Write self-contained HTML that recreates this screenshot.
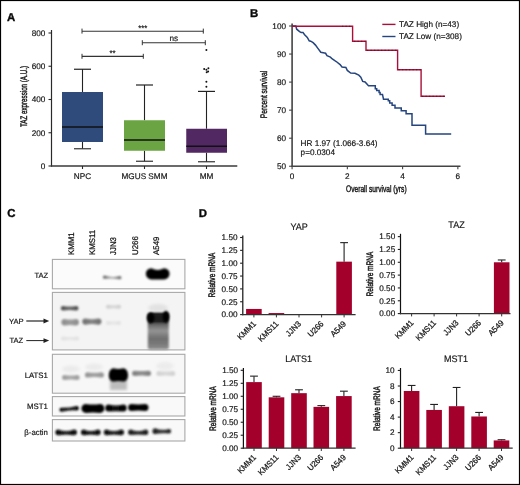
<!DOCTYPE html>
<html><head><meta charset="utf-8"><style>
html,body{margin:0;padding:0;background:#fff;}
body{width:520px;height:485px;overflow:hidden;}
svg{display:block;font-family:"Liberation Sans", sans-serif;will-change:transform;}
</style></head><body>
<svg width="520" height="485" viewBox="0 0 520 485" text-rendering="geometricPrecision">
<rect x="0" y="0" width="520" height="485" fill="#fff"/>
<text transform="translate(7,20.9) scale(1,1)" font-size="11.4" text-anchor="start" font-weight="bold" fill="#0a0a0a" stroke="#0a0a0a" stroke-width="0.35" >A</text>
<line x1="51.5" y1="30" x2="51.5" y2="166.6" stroke="#2a2a2a" stroke-width="1.2"/>
<line x1="48.5" y1="166.0" x2="51.5" y2="166.0" stroke="#2a2a2a" stroke-width="1.1"/>
<text transform="translate(45.3,168.8) scale(1.0,1)" font-size="8.2" text-anchor="end" font-weight="normal" fill="#161616" stroke="#161616" stroke-width="0.18" >0</text>
<line x1="48.5" y1="132.75" x2="51.5" y2="132.75" stroke="#2a2a2a" stroke-width="1.1"/>
<text transform="translate(45.3,135.55) scale(1.0,1)" font-size="8.2" text-anchor="end" font-weight="normal" fill="#161616" stroke="#161616" stroke-width="0.18" >200</text>
<line x1="48.5" y1="99.5" x2="51.5" y2="99.5" stroke="#2a2a2a" stroke-width="1.1"/>
<text transform="translate(45.3,102.3) scale(1.0,1)" font-size="8.2" text-anchor="end" font-weight="normal" fill="#161616" stroke="#161616" stroke-width="0.18" >400</text>
<line x1="48.5" y1="66.25" x2="51.5" y2="66.25" stroke="#2a2a2a" stroke-width="1.1"/>
<text transform="translate(45.3,69.05) scale(1.0,1)" font-size="8.2" text-anchor="end" font-weight="normal" fill="#161616" stroke="#161616" stroke-width="0.18" >600</text>
<line x1="48.5" y1="33.0" x2="51.5" y2="33.0" stroke="#2a2a2a" stroke-width="1.1"/>
<text transform="translate(45.3,35.8) scale(1.0,1)" font-size="8.2" text-anchor="end" font-weight="normal" fill="#161616" stroke="#161616" stroke-width="0.18" >800</text>
<line x1="50.9" y1="166.0" x2="237.3" y2="166.0" stroke="#3a3a3a" stroke-width="1.3"/>
<line x1="82.5" y1="166" x2="82.5" y2="169" stroke="#2a2a2a" stroke-width="1.1"/>
<text transform="translate(82.5,179) scale(1.0,1)" font-size="8.2" text-anchor="middle" font-weight="normal" fill="#161616" stroke="#161616" stroke-width="0.18" >NPC</text>
<line x1="144.5" y1="166" x2="144.5" y2="169" stroke="#2a2a2a" stroke-width="1.1"/>
<text transform="translate(144.5,179) scale(1.0,1)" font-size="8.2" text-anchor="middle" font-weight="normal" fill="#161616" stroke="#161616" stroke-width="0.18" >MGUS SMM</text>
<line x1="206.5" y1="166" x2="206.5" y2="169" stroke="#2a2a2a" stroke-width="1.1"/>
<text transform="translate(206.5,179) scale(1.0,1)" font-size="8.2" text-anchor="middle" font-weight="normal" fill="#161616" stroke="#161616" stroke-width="0.18" >MM</text>
<text transform="translate(26.5,96.5) rotate(-90) scale(0.655,1)" font-size="9.5" text-anchor="middle" fill="#161616" stroke="#161616" stroke-width="0.42">TAZ expression (A.U.)</text>
<line x1="82.5" y1="69.25" x2="82.5" y2="92" stroke="#222" stroke-width="1.1"/>
<line x1="82.5" y1="142" x2="82.5" y2="148.75" stroke="#222" stroke-width="1.1"/>
<line x1="74.0" y1="69.25" x2="91.0" y2="69.25" stroke="#222" stroke-width="1.2"/>
<line x1="74.0" y1="148.75" x2="91.0" y2="148.75" stroke="#333" stroke-width="1.2"/>
<rect x="62" y="92" width="41" height="50" fill="#2e4b7b" stroke="none" stroke-width="0" />
<line x1="62" y1="127" x2="103" y2="127" stroke="#111" stroke-width="1.4"/>
<line x1="144.5" y1="85" x2="144.5" y2="120.25" stroke="#222" stroke-width="1.1"/>
<line x1="144.5" y1="150.75" x2="144.5" y2="161.25" stroke="#222" stroke-width="1.1"/>
<line x1="136.0" y1="85" x2="153.0" y2="85" stroke="#222" stroke-width="1.2"/>
<line x1="136.0" y1="161.25" x2="153.0" y2="161.25" stroke="#333" stroke-width="1.2"/>
<rect x="124" y="120.25" width="41" height="30.5" fill="#6ba543" stroke="none" stroke-width="0" />
<line x1="124" y1="140" x2="165" y2="140" stroke="#111" stroke-width="1.4"/>
<line x1="206.5" y1="91.4" x2="206.5" y2="128.75" stroke="#222" stroke-width="1.1"/>
<line x1="206.5" y1="152.75" x2="206.5" y2="161.75" stroke="#222" stroke-width="1.1"/>
<line x1="198.0" y1="91.4" x2="215.0" y2="91.4" stroke="#222" stroke-width="1.2"/>
<line x1="198.0" y1="161.75" x2="215.0" y2="161.75" stroke="#333" stroke-width="1.2"/>
<rect x="186.25" y="128.75" width="40.75" height="24.0" fill="#512862" stroke="none" stroke-width="0" />
<line x1="186.25" y1="146.25" x2="227" y2="146.25" stroke="#111" stroke-width="1.4"/>
<circle cx="206.4" cy="50" r="1.0" fill="#111"/>
<circle cx="204.2" cy="69" r="1.0" fill="#111"/>
<circle cx="206.4" cy="69.7" r="1.0" fill="#111"/>
<circle cx="208.4" cy="68.3" r="1.0" fill="#111"/>
<circle cx="206.7" cy="72.3" r="1.0" fill="#111"/>
<circle cx="208.1" cy="71.5" r="1.0" fill="#111"/>
<circle cx="206.4" cy="81.7" r="1.0" fill="#111"/>
<circle cx="206.4" cy="86.7" r="1.0" fill="#111"/>
<line x1="82" y1="31.2" x2="203.3" y2="31.2" stroke="#333" stroke-width="1.1"/>
<line x1="82" y1="28.599999999999998" x2="82" y2="33.6" stroke="#333" stroke-width="1.0"/>
<line x1="203.3" y1="28.599999999999998" x2="203.3" y2="33.6" stroke="#333" stroke-width="1.0"/>
<text transform="translate(142.8,30.7) scale(0.95,1)" font-size="8.2" text-anchor="middle" font-weight="normal" fill="#161616" stroke="#161616" stroke-width="0.18" >***</text>
<line x1="142.3" y1="42.8" x2="205.3" y2="42.8" stroke="#333" stroke-width="1.1"/>
<line x1="142.3" y1="40.199999999999996" x2="142.3" y2="45.199999999999996" stroke="#333" stroke-width="1.0"/>
<line x1="205.3" y1="40.199999999999996" x2="205.3" y2="45.199999999999996" stroke="#333" stroke-width="1.0"/>
<text transform="translate(173.8,40.5) scale(1.0,1)" font-size="8.2" text-anchor="middle" font-weight="normal" fill="#161616" stroke="#161616" stroke-width="0.18" >ns</text>
<line x1="82" y1="56.4" x2="143.3" y2="56.4" stroke="#333" stroke-width="1.1"/>
<line x1="82" y1="53.8" x2="82" y2="58.8" stroke="#333" stroke-width="1.0"/>
<line x1="143.3" y1="53.8" x2="143.3" y2="58.8" stroke="#333" stroke-width="1.0"/>
<text transform="translate(112.6,56.2) scale(0.95,1)" font-size="8.2" text-anchor="middle" font-weight="normal" fill="#161616" stroke="#161616" stroke-width="0.18" >**</text>
<text transform="translate(250,16.9) scale(1,1)" font-size="11.4" text-anchor="start" font-weight="bold" fill="#0a0a0a" stroke="#0a0a0a" stroke-width="0.35" >B</text>
<line x1="292.1" y1="23.4" x2="292.1" y2="167" stroke="#444" stroke-width="1.6"/>
<line x1="289.1" y1="166.25" x2="292.1" y2="166.25" stroke="#444" stroke-width="1.1"/>
<text transform="translate(286,169.05) scale(1.0,1)" font-size="8.2" text-anchor="end" font-weight="normal" fill="#161616" stroke="#161616" stroke-width="0.18" >50</text>
<line x1="289.1" y1="138.2" x2="292.1" y2="138.2" stroke="#444" stroke-width="1.1"/>
<text transform="translate(286,141.0) scale(1.0,1)" font-size="8.2" text-anchor="end" font-weight="normal" fill="#161616" stroke="#161616" stroke-width="0.18" >60</text>
<line x1="289.1" y1="110.15" x2="292.1" y2="110.15" stroke="#444" stroke-width="1.1"/>
<text transform="translate(286,112.95) scale(1.0,1)" font-size="8.2" text-anchor="end" font-weight="normal" fill="#161616" stroke="#161616" stroke-width="0.18" >70</text>
<line x1="289.1" y1="82.1" x2="292.1" y2="82.1" stroke="#444" stroke-width="1.1"/>
<text transform="translate(286,84.89999999999999) scale(1.0,1)" font-size="8.2" text-anchor="end" font-weight="normal" fill="#161616" stroke="#161616" stroke-width="0.18" >80</text>
<line x1="289.1" y1="54.05" x2="292.1" y2="54.05" stroke="#444" stroke-width="1.1"/>
<text transform="translate(286,56.849999999999994) scale(1.0,1)" font-size="8.2" text-anchor="end" font-weight="normal" fill="#161616" stroke="#161616" stroke-width="0.18" >90</text>
<line x1="289.1" y1="26.0" x2="292.1" y2="26.0" stroke="#444" stroke-width="1.1"/>
<text transform="translate(286,28.8) scale(1.0,1)" font-size="8.2" text-anchor="end" font-weight="normal" fill="#161616" stroke="#161616" stroke-width="0.18" >100</text>
<line x1="291.5" y1="166.25" x2="460.5" y2="166.25" stroke="#444" stroke-width="1.6"/>
<line x1="292.1" y1="166.25" x2="292.1" y2="169.3" stroke="#444" stroke-width="1.1"/>
<text transform="translate(292.1,178.7) scale(1.0,1)" font-size="8.2" text-anchor="middle" font-weight="normal" fill="#161616" stroke="#161616" stroke-width="0.18" >0</text>
<line x1="347.35" y1="166.25" x2="347.35" y2="169.3" stroke="#444" stroke-width="1.1"/>
<text transform="translate(347.35,178.7) scale(1.0,1)" font-size="8.2" text-anchor="middle" font-weight="normal" fill="#161616" stroke="#161616" stroke-width="0.18" >2</text>
<line x1="402.6" y1="166.25" x2="402.6" y2="169.3" stroke="#444" stroke-width="1.1"/>
<text transform="translate(402.6,178.7) scale(1.0,1)" font-size="8.2" text-anchor="middle" font-weight="normal" fill="#161616" stroke="#161616" stroke-width="0.18" >4</text>
<line x1="457.85" y1="166.25" x2="457.85" y2="169.3" stroke="#444" stroke-width="1.1"/>
<text transform="translate(457.85,178.7) scale(1.0,1)" font-size="8.2" text-anchor="middle" font-weight="normal" fill="#161616" stroke="#161616" stroke-width="0.18" >6</text>
<text transform="translate(376.3,192.3) scale(0.70,1)" font-size="9.5" text-anchor="middle" fill="#161616" stroke="#161616" stroke-width="0.42">Overall survival (yrs)</text>
<text transform="translate(266.5,94.5) rotate(-90) scale(0.7,1)" font-size="9.5" text-anchor="middle" fill="#161616" stroke="#161616" stroke-width="0.42">Percent survival</text>
<text transform="translate(300.6,146.2) scale(1.0,1)" font-size="8.2" text-anchor="start" font-weight="normal" fill="#161616" stroke="#161616" stroke-width="0.18" >HR 1.97 (1.066-3.64)</text>
<text transform="translate(300.6,155.0) scale(1.0,1)" font-size="8.2" text-anchor="start" font-weight="normal" fill="#161616" stroke="#161616" stroke-width="0.18" >p=0.0304</text>
<line x1="382.3" y1="24.4" x2="395.5" y2="24.4" stroke="#a90f3a" stroke-width="1.4"/>
<text transform="translate(399.0,27.2) scale(1.0,1)" font-size="8.2" text-anchor="start" font-weight="normal" fill="#161616" stroke="#161616" stroke-width="0.18" >TAZ High (n=43)</text>
<line x1="382.3" y1="36.5" x2="395.5" y2="36.5" stroke="#25457f" stroke-width="1.4"/>
<text transform="translate(399.0,39.0) scale(1.0,1)" font-size="8.2" text-anchor="start" font-weight="normal" fill="#161616" stroke="#161616" stroke-width="0.18" >TAZ Low (n=308)</text>
<polyline fill="none" stroke="#25457f" stroke-width="1.5" stroke-linejoin="miter" points="292,26.1 295.8,26.1 296.7,29.2 299.6,31.6 301.1,32.4 303,32.4 304.4,34.5 307.3,37.4 309.2,40.75 310.7,41.2 313.1,42.7 315.5,45.1 317.9,48.4 320.8,52.3 323.2,52.8 325.6,53.25 327,55.65 330.4,57.1 332.3,59 335.2,60.9 336.25,61.5 340.1,64.6 342,67 345.9,67.5 347.3,70.4 350.7,73.1 355,73.3 358.8,75.2 360.8,77.1 362.7,81.4 365.1,81.9 368.5,85.8 375.3,85.8 375.3,88.7 376.7,88.7 376.7,90.4 379.1,90.4 379.1,92.5 380.1,92.5 380.1,94.4 382.5,94.4 383.5,99.2 388.3,99.2 388.3,100.7 389.7,100.7 389.7,102.9 392.1,102.9 392.1,105.2 395,105.2 395,108.1 401.25,108.1 401.25,110.8 406.1,110.8 406.1,113.8 412,113.8 412,125.2 425.6,125.2 425.6,133.9 451.2,133.9"/>
<polyline fill="none" stroke="#a90f3a" stroke-width="1.4" stroke-linejoin="miter" points="292,26.2 352.6,26.2 352.6,41.3 366.0,41.3 366.0,50.3 397.6,50.3 397.6,69.75 421.1,69.75 421.1,96.2 445,96.2"/>
<line x1="342" y1="26.2" x2="352.2" y2="26.2" stroke="#2a0a14" stroke-width="1.1" stroke-dasharray="1.3 2.2" opacity="0.55"/>
<line x1="354" y1="41.3" x2="365.6" y2="41.3" stroke="#2a0a14" stroke-width="1.1" stroke-dasharray="1.3 2.2" opacity="0.55"/>
<line x1="367" y1="50.3" x2="397.2" y2="50.3" stroke="#2a0a14" stroke-width="1.1" stroke-dasharray="1.3 2.2" opacity="0.55"/>
<line x1="398.5" y1="69.75" x2="420.7" y2="69.75" stroke="#2a0a14" stroke-width="1.1" stroke-dasharray="1.3 2.2" opacity="0.55"/>
<line x1="422" y1="96.2" x2="445" y2="96.2" stroke="#2a0a14" stroke-width="1.1" stroke-dasharray="1.3 2.2" opacity="0.55"/>
<text transform="translate(7.3,217.3) scale(1,1)" font-size="11.4" text-anchor="start" font-weight="bold" fill="#0a0a0a" stroke="#0a0a0a" stroke-width="0.35" >C</text>
<text transform="translate(74.1,254.9) rotate(-90) scale(0.955,1)" font-size="8.2" fill="#161616" stroke="#161616" stroke-width="0.26">KMM1</text>
<text transform="translate(95.3,254.9) rotate(-90) scale(0.955,1)" font-size="8.2" fill="#161616" stroke="#161616" stroke-width="0.26">KMS11</text>
<text transform="translate(116.2,254.9) rotate(-90) scale(0.955,1)" font-size="8.2" fill="#161616" stroke="#161616" stroke-width="0.26">JJN3</text>
<text transform="translate(137.60000000000002,254.9) rotate(-90) scale(0.955,1)" font-size="8.2" fill="#161616" stroke="#161616" stroke-width="0.26">U266</text>
<text transform="translate(158.70000000000002,254.9) rotate(-90) scale(0.955,1)" font-size="8.2" fill="#161616" stroke="#161616" stroke-width="0.26">A549</text>
<rect x="52.4" y="259.4" width="132.5" height="29.400000000000034" fill="#fbfbfb" stroke="#a8a8a8" stroke-width="1.1" />
<rect x="52.4" y="292.4" width="132.5" height="57.5" fill="#f4f4f4" stroke="#a8a8a8" stroke-width="1.1" />
<rect x="52.4" y="354.3" width="132.5" height="38.89999999999998" fill="#f7f7f7" stroke="#a8a8a8" stroke-width="1.1" />
<rect x="52.4" y="396.6" width="132.5" height="19.399999999999977" fill="#f9f9f9" stroke="#a8a8a8" stroke-width="1.1" />
<rect x="52.4" y="419.6" width="132.5" height="21.399999999999977" fill="#f9f9f9" stroke="#a8a8a8" stroke-width="1.1" />
<text transform="translate(48.2,277.7) scale(1.0,1)" font-size="7.6" text-anchor="end" font-weight="normal" fill="#161616" stroke="#161616" stroke-width="0.18" >TAZ</text>
<text transform="translate(23.6,323.6) scale(1.0,1)" font-size="7.6" text-anchor="end" font-weight="normal" fill="#161616" stroke="#161616" stroke-width="0.18" >YAP</text>
<text transform="translate(23.2,342.9) scale(1.0,1)" font-size="7.6" text-anchor="end" font-weight="normal" fill="#161616" stroke="#161616" stroke-width="0.18" >TAZ</text>
<text transform="translate(47.9,378.1) scale(1.0,1)" font-size="7.8" text-anchor="end" font-weight="normal" fill="#161616" stroke="#161616" stroke-width="0.18" >LATS1</text>
<text transform="translate(47.9,409.4) scale(1.0,1)" font-size="7.8" text-anchor="end" font-weight="normal" fill="#161616" stroke="#161616" stroke-width="0.18" >MST1</text>
<text transform="translate(47.9,434.8) scale(1.0,1)" font-size="7.8" text-anchor="end" font-weight="normal" fill="#161616" stroke="#161616" stroke-width="0.18" >&#946;-actin</text>
<line x1="26.3" y1="321.0" x2="44.5" y2="321.0" stroke="#444" stroke-width="1.4"/>
<polygon points="43.5,318.6 49.2,321 43.5,323.4" fill="#222"/>
<line x1="26.3" y1="340.6" x2="44.5" y2="340.6" stroke="#222" stroke-width="1.0"/>
<polygon points="43.5,338.3 49.2,340.6 43.5,342.9" fill="#222"/>
<defs><filter id="b05" x="-50%" y="-100%" width="200%" height="300%"><feGaussianBlur stdDeviation="0.6"/></filter><filter id="b1" x="-50%" y="-100%" width="200%" height="300%"><feGaussianBlur stdDeviation="0.9"/></filter><filter id="b2" x="-50%" y="-100%" width="200%" height="300%"><feGaussianBlur stdDeviation="1.6"/></filter><filter id="b3" x="-50%" y="-100%" width="200%" height="300%"><feGaussianBlur stdDeviation="2.6"/></filter></defs>
<defs><linearGradient id="g1" x1="0" x2="1" y1="0" y2="0"><stop offset="0" stop-color="#606060"/><stop offset="0.5" stop-color="#a8a8a8"/><stop offset="1" stop-color="#606060"/></linearGradient></defs>
<path d="M104.50,275.60 Q112.15,278.25 119.80,276.10 A1.60,1.60 0 0 1 119.80,279.30 Q112.15,278.25 104.50,278.80 A1.60,1.60 0 0 1 104.50,275.60 Z" fill="url(#g1)" opacity="1" filter="url(#b1)"/>
<defs><linearGradient id="g2" x1="0" x2="1" y1="0" y2="0"><stop offset="0" stop-color="#000"/><stop offset="0.5" stop-color="#000"/><stop offset="1" stop-color="#000"/></linearGradient></defs>
<path d="M151.40,268.20 Q157.70,271.80 164.00,268.20 A5.60,5.60 0 0 1 164.00,279.40 Q157.70,279.40 151.40,279.40 A5.60,5.60 0 0 1 151.40,268.20 Z" fill="url(#g2)" opacity="1" filter="url(#b1)"/>
<defs><linearGradient id="g3" x1="0" x2="1" y1="0" y2="0"><stop offset="0" stop-color="#4a4a4a"/><stop offset="0.5" stop-color="#6a6a6a"/><stop offset="1" stop-color="#4a4a4a"/></linearGradient></defs>
<path d="M63.10,305.90 Q69.65,306.90 76.20,305.90 A2.30,2.30 0 0 1 76.20,310.50 Q69.65,309.50 63.10,310.50 A2.30,2.30 0 0 1 63.10,305.90 Z" fill="url(#g3)" opacity="1" filter="url(#b1)"/>
<defs><linearGradient id="g4" x1="0" x2="1" y1="0" y2="0"><stop offset="0" stop-color="#8a8a8a"/><stop offset="0.5" stop-color="#9c9c9c"/><stop offset="1" stop-color="#8a8a8a"/></linearGradient></defs>
<path d="M64.70,319.00 Q70.15,320.20 75.60,319.00 A3.30,3.30 0 0 1 75.60,325.60 Q70.15,324.40 64.70,325.60 A3.30,3.30 0 0 1 64.70,319.00 Z" fill="url(#g4)" opacity="1" filter="url(#b1)"/>
<defs><linearGradient id="g5" x1="0" x2="1" y1="0" y2="0"><stop offset="0" stop-color="#6e6e6e"/><stop offset="0.5" stop-color="#858585"/><stop offset="1" stop-color="#6e6e6e"/></linearGradient></defs>
<path d="M85.40,318.50 Q91.85,319.90 98.30,318.50 A3.10,3.10 0 0 1 98.30,324.70 Q91.85,323.30 85.40,324.70 A3.10,3.10 0 0 1 85.40,318.50 Z" fill="url(#g5)" opacity="1" filter="url(#b1)"/>
<defs><linearGradient id="g6" x1="0" x2="1" y1="0" y2="0"><stop offset="0" stop-color="#cdcdcd"/><stop offset="0.5" stop-color="#d8d8d8"/><stop offset="1" stop-color="#cdcdcd"/></linearGradient></defs>
<path d="M108.00,304.80 Q113.50,305.80 119.00,304.80 A2.00,2.00 0 0 1 119.00,308.80 Q113.50,307.80 108.00,308.80 A2.00,2.00 0 0 1 108.00,304.80 Z" fill="url(#g6)" opacity="1" filter="url(#b1)"/>
<defs><linearGradient id="g7" x1="0" x2="1" y1="0" y2="0"><stop offset="0" stop-color="#e0e0e0"/><stop offset="0.5" stop-color="#e6e6e6"/><stop offset="1" stop-color="#e0e0e0"/></linearGradient></defs>
<path d="M108.00,321.00 Q113.50,322.00 119.00,321.00 A2.00,2.00 0 0 1 119.00,325.00 Q113.50,324.00 108.00,325.00 A2.00,2.00 0 0 1 108.00,321.00 Z" fill="url(#g7)" opacity="1" filter="url(#b1)"/>
<defs><linearGradient id="g8" x1="0" x2="1" y1="0" y2="0"><stop offset="0" stop-color="#e0e0e0"/><stop offset="0.5" stop-color="#e6e6e6"/><stop offset="1" stop-color="#e0e0e0"/></linearGradient></defs>
<path d="M63.00,336.50 Q70.00,337.50 77.00,336.50 A2.00,2.00 0 0 1 77.00,340.50 Q70.00,339.50 63.00,340.50 A2.00,2.00 0 0 1 63.00,336.50 Z" fill="url(#g8)" opacity="1" filter="url(#b1)"/>
<ellipse cx="158" cy="308" rx="10" ry="4" fill="#e2e2e2" opacity="1" filter="url(#b2)"/>
<defs><linearGradient id="a549y" x1="0" x2="0" y1="0" y2="1"><stop offset="0" stop-color="#1a1a1a"/><stop offset="0.28" stop-color="#5a5a5a"/><stop offset="0.48" stop-color="#959595"/><stop offset="0.7" stop-color="#6e6e6e"/><stop offset="0.85" stop-color="#7a7a7a"/><stop offset="1" stop-color="#909090"/></linearGradient></defs>
<rect x="147.8" y="313" width="21" height="36.6" rx="2" fill="url(#a549y)" filter="url(#b1)"/>
<rect x="150" y="313.5" width="16" height="9" fill="#1e1e1e" filter="url(#b1)"/>
<ellipse cx="150.6" cy="317.8" rx="3.8" ry="5.4" fill="#000" opacity="1" filter="url(#b1)"/>
<ellipse cx="166.0" cy="316.8" rx="3.3" ry="6.0" fill="#000" opacity="1" filter="url(#b1)"/>
<ellipse cx="71" cy="369" rx="9" ry="3.5" fill="#ebebeb" opacity="1" filter="url(#b2)"/>
<ellipse cx="94" cy="367" rx="9" ry="3.5" fill="#ebebeb" opacity="1" filter="url(#b2)"/>
<ellipse cx="165" cy="366" rx="9" ry="4" fill="#ececec" opacity="1" filter="url(#b2)"/>
<defs><linearGradient id="g9" x1="0" x2="1" y1="0" y2="0"><stop offset="0" stop-color="#9a9a9a"/><stop offset="0.5" stop-color="#aaaaaa"/><stop offset="1" stop-color="#9a9a9a"/></linearGradient></defs>
<path d="M64.60,375.10 Q70.85,376.10 77.10,375.10 A2.50,2.50 0 0 1 77.10,380.10 Q70.85,379.10 64.60,380.10 A2.50,2.50 0 0 1 64.60,375.10 Z" fill="url(#g9)" opacity="1" filter="url(#b1)"/>
<defs><linearGradient id="g10" x1="0" x2="1" y1="0" y2="0"><stop offset="0" stop-color="#929292"/><stop offset="0.5" stop-color="#a2a2a2"/><stop offset="1" stop-color="#929292"/></linearGradient></defs>
<path d="M87.60,372.30 Q94.45,373.30 101.30,372.30 A2.60,2.60 0 0 1 101.30,377.50 Q94.45,376.50 87.60,377.50 A2.60,2.60 0 0 1 87.60,372.30 Z" fill="url(#g10)" opacity="1" filter="url(#b1)"/>
<rect x="110" y="378" width="17" height="12" fill="#bdbdbd" filter="url(#b2)"/>
<defs><linearGradient id="g11" x1="0" x2="1" y1="0" y2="0"><stop offset="0" stop-color="#000"/><stop offset="0.5" stop-color="#000"/><stop offset="1" stop-color="#000"/></linearGradient></defs>
<path d="M113.55,368.20 Q118.40,369.60 123.25,368.20 A4.85,6.70 0 0 1 123.25,381.60 Q118.40,380.20 113.55,381.60 A4.85,6.70 0 0 1 113.55,368.20 Z" fill="url(#g11)" opacity="1" filter="url(#b1)"/>
<defs><linearGradient id="g12" x1="0" x2="1" y1="0" y2="0"><stop offset="0" stop-color="#7c7c7c"/><stop offset="0.5" stop-color="#909090"/><stop offset="1" stop-color="#7c7c7c"/></linearGradient></defs>
<path d="M134.70,370.70 Q141.55,371.50 148.40,370.70 A2.60,2.60 0 0 1 148.40,375.90 Q141.55,375.10 134.70,375.90 A2.60,2.60 0 0 1 134.70,370.70 Z" fill="url(#g12)" opacity="1" filter="url(#b1)"/>
<defs><linearGradient id="g13" x1="0" x2="1" y1="0" y2="0"><stop offset="0" stop-color="#d0d0d0"/><stop offset="0.5" stop-color="#d8d8d8"/><stop offset="1" stop-color="#d0d0d0"/></linearGradient></defs>
<path d="M158.90,371.00 Q165.80,372.00 172.70,371.00 A2.50,2.50 0 0 1 172.70,376.00 Q165.80,375.00 158.90,376.00 A2.50,2.50 0 0 1 158.90,371.00 Z" fill="url(#g13)" opacity="1" filter="url(#b1)"/>
<defs><linearGradient id="g14" x1="0" x2="1" y1="0" y2="0"><stop offset="0" stop-color="#000"/><stop offset="0.5" stop-color="#1a1a1a"/><stop offset="1" stop-color="#000"/></linearGradient></defs>
<path d="M61.40,407.80 Q69.15,408.10 76.70,406.00 A2.20,2.20 0 0 1 76.70,410.40 Q69.15,409.90 61.40,411.80 A2.00,2.00 0 0 1 61.40,407.80 Z" fill="url(#g14)" opacity="1" filter="url(#b1)"/>
<defs><linearGradient id="g15" x1="0" x2="1" y1="0" y2="0"><stop offset="0" stop-color="#000"/><stop offset="0.5" stop-color="#000"/><stop offset="1" stop-color="#000"/></linearGradient></defs>
<path d="M85.90,403.90 Q92.95,405.30 100.00,403.90 A4.50,4.50 0 0 1 100.00,412.90 Q92.95,412.30 85.90,412.90 A4.50,4.50 0 0 1 85.90,403.90 Z" fill="url(#g15)" opacity="1" filter="url(#b1)"/>
<defs><linearGradient id="g16" x1="0" x2="1" y1="0" y2="0"><stop offset="0" stop-color="#000"/><stop offset="0.5" stop-color="#0a0a0a"/><stop offset="1" stop-color="#000"/></linearGradient></defs>
<path d="M108.70,404.60 Q115.95,406.60 123.20,404.60 A3.50,3.50 0 0 1 123.20,411.60 Q115.95,410.80 108.70,411.60 A3.50,3.50 0 0 1 108.70,404.60 Z" fill="url(#g16)" opacity="1" filter="url(#b1)"/>
<defs><linearGradient id="g17" x1="0" x2="1" y1="0" y2="0"><stop offset="0" stop-color="#000"/><stop offset="0.5" stop-color="#000"/><stop offset="1" stop-color="#000"/></linearGradient></defs>
<path d="M131.60,404.00 Q138.30,404.80 145.00,404.00 A3.50,3.50 0 0 1 145.00,411.00 Q138.30,410.20 131.60,411.00 A3.50,3.50 0 0 1 131.60,404.00 Z" fill="url(#g17)" opacity="1" filter="url(#b1)"/>
<defs><linearGradient id="g18" x1="0" x2="1" y1="0" y2="0"><stop offset="0" stop-color="#000"/><stop offset="0.5" stop-color="#222"/><stop offset="1" stop-color="#000"/></linearGradient></defs>
<path d="M58.30,429.40 Q66.15,432.60 74.00,429.40 A2.90,2.90 0 0 1 74.00,435.20 Q66.15,434.40 58.30,435.20 A2.90,2.90 0 0 1 58.30,429.40 Z" fill="url(#g18)" opacity="1" filter="url(#b1)"/>
<defs><linearGradient id="g19" x1="0" x2="1" y1="0" y2="0"><stop offset="0" stop-color="#000"/><stop offset="0.5" stop-color="#222"/><stop offset="1" stop-color="#000"/></linearGradient></defs>
<path d="M83.90,429.40 Q90.80,432.60 97.70,429.40 A2.90,2.90 0 0 1 97.70,435.20 Q90.80,434.40 83.90,435.20 A2.90,2.90 0 0 1 83.90,429.40 Z" fill="url(#g19)" opacity="1" filter="url(#b1)"/>
<defs><linearGradient id="g20" x1="0" x2="1" y1="0" y2="0"><stop offset="0" stop-color="#050505"/><stop offset="0.5" stop-color="#262626"/><stop offset="1" stop-color="#050505"/></linearGradient></defs>
<path d="M106.70,429.40 Q113.90,432.60 121.10,429.40 A2.90,2.90 0 0 1 121.10,435.20 Q113.90,434.40 106.70,435.20 A2.90,2.90 0 0 1 106.70,429.40 Z" fill="url(#g20)" opacity="1" filter="url(#b1)"/>
<defs><linearGradient id="g21" x1="0" x2="1" y1="0" y2="0"><stop offset="0" stop-color="#151515"/><stop offset="0.5" stop-color="#333"/><stop offset="1" stop-color="#151515"/></linearGradient></defs>
<path d="M130.90,429.50 Q138.20,432.70 145.50,429.50 A2.80,2.80 0 0 1 145.50,435.10 Q138.20,434.30 130.90,435.10 A2.80,2.80 0 0 1 130.90,429.50 Z" fill="url(#g21)" opacity="1" filter="url(#b1)"/>
<defs><linearGradient id="g22" x1="0" x2="1" y1="0" y2="0"><stop offset="0" stop-color="#1a1a1a"/><stop offset="0.5" stop-color="#3a3a3a"/><stop offset="1" stop-color="#1a1a1a"/></linearGradient></defs>
<path d="M155.40,428.30 Q161.80,431.00 168.80,428.90 A2.30,2.30 0 0 1 168.80,433.50 Q161.80,433.00 155.40,434.10 A2.90,2.90 0 0 1 155.40,428.30 Z" fill="url(#g22)" opacity="1" filter="url(#b1)"/>
<text transform="translate(198.8,217.2) scale(1,1)" font-size="11.4" text-anchor="start" font-weight="bold" fill="#0a0a0a" stroke="#0a0a0a" stroke-width="0.35" >D</text>
<text transform="translate(299.2,229.6) scale(0.96,1)" font-size="9.4" text-anchor="middle" font-weight="normal" fill="#161616" stroke="#161616" stroke-width="0.18" >YAP</text>
<rect x="246.1" y="308.946" width="15.6" height="5.653999999999996" fill="#a3002c" stroke="none" stroke-width="0" />
<rect x="268.59999999999997" y="313.05800000000005" width="15.6" height="1.5419999999999732" fill="#a3002c" stroke="none" stroke-width="0" />
<rect x="291.2" y="314.6" width="15.6" height="0.0" fill="#a3002c" stroke="none" stroke-width="0" />
<rect x="313.8" y="314.6" width="15.6" height="0.0" fill="#a3002c" stroke="none" stroke-width="0" />
<line x1="344.1" y1="242.64000000000004" x2="344.1" y2="261.658" stroke="#222" stroke-width="1.1"/>
<line x1="340.20000000000005" y1="242.64000000000004" x2="348.0" y2="242.64000000000004" stroke="#222" stroke-width="1.1"/>
<rect x="336.3" y="261.658" width="15.6" height="52.94200000000001" fill="#a3002c" stroke="none" stroke-width="0" />
<line x1="242.8" y1="235.5" x2="242.8" y2="315.20000000000005" stroke="#111" stroke-width="1.2"/>
<line x1="240.10000000000002" y1="314.6" x2="242.8" y2="314.6" stroke="#222" stroke-width="1.1"/>
<text transform="translate(237.5,317.40000000000003) scale(1.0,1)" font-size="8.2" text-anchor="end" font-weight="normal" fill="#161616" stroke="#161616" stroke-width="0.18" >0.00</text>
<line x1="240.10000000000002" y1="301.75" x2="242.8" y2="301.75" stroke="#222" stroke-width="1.1"/>
<text transform="translate(237.5,304.55) scale(1.0,1)" font-size="8.2" text-anchor="end" font-weight="normal" fill="#161616" stroke="#161616" stroke-width="0.18" >0.25</text>
<line x1="240.10000000000002" y1="288.90000000000003" x2="242.8" y2="288.90000000000003" stroke="#222" stroke-width="1.1"/>
<text transform="translate(237.5,291.70000000000005) scale(1.0,1)" font-size="8.2" text-anchor="end" font-weight="normal" fill="#161616" stroke="#161616" stroke-width="0.18" >0.50</text>
<line x1="240.10000000000002" y1="276.05" x2="242.8" y2="276.05" stroke="#222" stroke-width="1.1"/>
<text transform="translate(237.5,278.85) scale(1.0,1)" font-size="8.2" text-anchor="end" font-weight="normal" fill="#161616" stroke="#161616" stroke-width="0.18" >0.75</text>
<line x1="240.10000000000002" y1="263.20000000000005" x2="242.8" y2="263.20000000000005" stroke="#222" stroke-width="1.1"/>
<text transform="translate(237.5,266.00000000000006) scale(1.0,1)" font-size="8.2" text-anchor="end" font-weight="normal" fill="#161616" stroke="#161616" stroke-width="0.18" >1.00</text>
<line x1="240.10000000000002" y1="250.35000000000002" x2="242.8" y2="250.35000000000002" stroke="#222" stroke-width="1.1"/>
<text transform="translate(237.5,253.15000000000003) scale(1.0,1)" font-size="8.2" text-anchor="end" font-weight="normal" fill="#161616" stroke="#161616" stroke-width="0.18" >1.25</text>
<line x1="240.10000000000002" y1="237.50000000000003" x2="242.8" y2="237.50000000000003" stroke="#222" stroke-width="1.1"/>
<text transform="translate(237.5,240.30000000000004) scale(1.0,1)" font-size="8.2" text-anchor="end" font-weight="normal" fill="#161616" stroke="#161616" stroke-width="0.18" >1.50</text>
<line x1="242.20000000000002" y1="314.6" x2="355.6" y2="314.6" stroke="#333" stroke-width="1.3"/>
<line x1="253.9" y1="314.6" x2="253.9" y2="317.40000000000003" stroke="#333" stroke-width="1.0"/>
<text transform="translate(256.5,324.40000000000003) rotate(-45) scale(0.955,1)" font-size="8.2" text-anchor="end" fill="#161616" stroke="#161616" stroke-width="0.24">KMM1</text>
<line x1="276.4" y1="314.6" x2="276.4" y2="317.40000000000003" stroke="#333" stroke-width="1.0"/>
<text transform="translate(279.0,324.40000000000003) rotate(-45) scale(0.955,1)" font-size="8.2" text-anchor="end" fill="#161616" stroke="#161616" stroke-width="0.24">KMS11</text>
<line x1="299.0" y1="314.6" x2="299.0" y2="317.40000000000003" stroke="#333" stroke-width="1.0"/>
<text transform="translate(301.6,324.40000000000003) rotate(-45) scale(0.955,1)" font-size="8.2" text-anchor="end" fill="#161616" stroke="#161616" stroke-width="0.24">JJN3</text>
<line x1="321.6" y1="314.6" x2="321.6" y2="317.40000000000003" stroke="#333" stroke-width="1.0"/>
<text transform="translate(324.20000000000005,324.40000000000003) rotate(-45) scale(0.955,1)" font-size="8.2" text-anchor="end" fill="#161616" stroke="#161616" stroke-width="0.24">U266</text>
<line x1="344.1" y1="314.6" x2="344.1" y2="317.40000000000003" stroke="#333" stroke-width="1.0"/>
<text transform="translate(346.70000000000005,324.40000000000003) rotate(-45) scale(0.955,1)" font-size="8.2" text-anchor="end" fill="#161616" stroke="#161616" stroke-width="0.24">A549</text>
<text transform="translate(215.0,275.0) rotate(-90) scale(0.69,1)" font-size="9.5" text-anchor="middle" fill="#161616" stroke="#161616" stroke-width="0.42">Relative mRNA</text>
<text transform="translate(456.5,228.4) scale(0.96,1)" font-size="9.4" text-anchor="middle" font-weight="normal" fill="#161616" stroke="#161616" stroke-width="0.18" >TAZ</text>
<rect x="403.8" y="313.34340000000003" width="15.6" height="0.2565999999999917" fill="#a3002c" stroke="none" stroke-width="0" />
<rect x="426.3" y="313.6" width="15.6" height="0.0" fill="#a3002c" stroke="none" stroke-width="0" />
<rect x="448.8" y="313.34340000000003" width="15.6" height="0.2565999999999917" fill="#a3002c" stroke="none" stroke-width="0" />
<rect x="471.3" y="313.6" width="15.6" height="0.0" fill="#a3002c" stroke="none" stroke-width="0" />
<line x1="501.7" y1="259.97060000000005" x2="501.7" y2="262.28000000000003" stroke="#222" stroke-width="1.1"/>
<line x1="497.8" y1="259.97060000000005" x2="505.59999999999997" y2="259.97060000000005" stroke="#222" stroke-width="1.1"/>
<rect x="493.9" y="262.28000000000003" width="15.6" height="51.31999999999999" fill="#a3002c" stroke="none" stroke-width="0" />
<line x1="400.5" y1="233.8" x2="400.5" y2="314.20000000000005" stroke="#111" stroke-width="1.2"/>
<line x1="397.8" y1="313.6" x2="400.5" y2="313.6" stroke="#222" stroke-width="1.1"/>
<text transform="translate(395.2,316.40000000000003) scale(1.0,1)" font-size="8.2" text-anchor="end" font-weight="normal" fill="#161616" stroke="#161616" stroke-width="0.18" >0.00</text>
<line x1="397.8" y1="300.77000000000004" x2="400.5" y2="300.77000000000004" stroke="#222" stroke-width="1.1"/>
<text transform="translate(395.2,303.57000000000005) scale(1.0,1)" font-size="8.2" text-anchor="end" font-weight="normal" fill="#161616" stroke="#161616" stroke-width="0.18" >0.25</text>
<line x1="397.8" y1="287.94" x2="400.5" y2="287.94" stroke="#222" stroke-width="1.1"/>
<text transform="translate(395.2,290.74) scale(1.0,1)" font-size="8.2" text-anchor="end" font-weight="normal" fill="#161616" stroke="#161616" stroke-width="0.18" >0.50</text>
<line x1="397.8" y1="275.11" x2="400.5" y2="275.11" stroke="#222" stroke-width="1.1"/>
<text transform="translate(395.2,277.91) scale(1.0,1)" font-size="8.2" text-anchor="end" font-weight="normal" fill="#161616" stroke="#161616" stroke-width="0.18" >0.75</text>
<line x1="397.8" y1="262.28000000000003" x2="400.5" y2="262.28000000000003" stroke="#222" stroke-width="1.1"/>
<text transform="translate(395.2,265.08000000000004) scale(1.0,1)" font-size="8.2" text-anchor="end" font-weight="normal" fill="#161616" stroke="#161616" stroke-width="0.18" >1.00</text>
<line x1="397.8" y1="249.45000000000002" x2="400.5" y2="249.45000000000002" stroke="#222" stroke-width="1.1"/>
<text transform="translate(395.2,252.25000000000003) scale(1.0,1)" font-size="8.2" text-anchor="end" font-weight="normal" fill="#161616" stroke="#161616" stroke-width="0.18" >1.25</text>
<line x1="397.8" y1="236.62" x2="400.5" y2="236.62" stroke="#222" stroke-width="1.1"/>
<text transform="translate(395.2,239.42000000000002) scale(1.0,1)" font-size="8.2" text-anchor="end" font-weight="normal" fill="#161616" stroke="#161616" stroke-width="0.18" >1.50</text>
<line x1="399.9" y1="313.6" x2="510.5" y2="313.6" stroke="#333" stroke-width="1.3"/>
<line x1="411.6" y1="313.6" x2="411.6" y2="316.40000000000003" stroke="#333" stroke-width="1.0"/>
<text transform="translate(414.20000000000005,323.40000000000003) rotate(-45) scale(0.955,1)" font-size="8.2" text-anchor="end" fill="#161616" stroke="#161616" stroke-width="0.24">KMM1</text>
<line x1="434.1" y1="313.6" x2="434.1" y2="316.40000000000003" stroke="#333" stroke-width="1.0"/>
<text transform="translate(436.70000000000005,323.40000000000003) rotate(-45) scale(0.955,1)" font-size="8.2" text-anchor="end" fill="#161616" stroke="#161616" stroke-width="0.24">KMS11</text>
<line x1="456.6" y1="313.6" x2="456.6" y2="316.40000000000003" stroke="#333" stroke-width="1.0"/>
<text transform="translate(459.20000000000005,323.40000000000003) rotate(-45) scale(0.955,1)" font-size="8.2" text-anchor="end" fill="#161616" stroke="#161616" stroke-width="0.24">JJN3</text>
<line x1="479.1" y1="313.6" x2="479.1" y2="316.40000000000003" stroke="#333" stroke-width="1.0"/>
<text transform="translate(481.70000000000005,323.40000000000003) rotate(-45) scale(0.955,1)" font-size="8.2" text-anchor="end" fill="#161616" stroke="#161616" stroke-width="0.24">U266</text>
<line x1="501.7" y1="313.6" x2="501.7" y2="316.40000000000003" stroke="#333" stroke-width="1.0"/>
<text transform="translate(504.3,323.40000000000003) rotate(-45) scale(0.955,1)" font-size="8.2" text-anchor="end" fill="#161616" stroke="#161616" stroke-width="0.24">A549</text>
<text transform="translate(373.0,274.0) rotate(-90) scale(0.69,1)" font-size="9.5" text-anchor="middle" fill="#161616" stroke="#161616" stroke-width="0.42">Relative mRNA</text>
<text transform="translate(298.6,362.1) scale(0.96,1)" font-size="9.4" text-anchor="middle" font-weight="normal" fill="#161616" stroke="#161616" stroke-width="0.18" >LATS1</text>
<line x1="254.0" y1="376.13504" x2="254.0" y2="382.10584" stroke="#222" stroke-width="1.1"/>
<line x1="250.1" y1="376.13504" x2="257.9" y2="376.13504" stroke="#222" stroke-width="1.1"/>
<rect x="246.2" y="382.10584" width="15.6" height="66.09415999999999" fill="#a3002c" stroke="none" stroke-width="0" />
<line x1="276.5" y1="396.28" x2="276.5" y2="397.3184" stroke="#222" stroke-width="1.1"/>
<line x1="272.6" y1="396.28" x2="280.4" y2="396.28" stroke="#222" stroke-width="1.1"/>
<rect x="268.7" y="397.3184" width="15.6" height="50.88159999999999" fill="#a3002c" stroke="none" stroke-width="0" />
<line x1="299.0" y1="389.78999999999996" x2="299.0" y2="393.1648" stroke="#222" stroke-width="1.1"/>
<line x1="295.1" y1="389.78999999999996" x2="302.9" y2="389.78999999999996" stroke="#222" stroke-width="1.1"/>
<rect x="291.2" y="393.1648" width="15.6" height="55.035199999999975" fill="#a3002c" stroke="none" stroke-width="0" />
<line x1="321.3" y1="405.62559999999996" x2="321.3" y2="406.87167999999997" stroke="#222" stroke-width="1.1"/>
<line x1="317.40000000000003" y1="405.62559999999996" x2="325.2" y2="405.62559999999996" stroke="#222" stroke-width="1.1"/>
<rect x="313.5" y="406.87167999999997" width="15.6" height="41.32832000000002" fill="#a3002c" stroke="none" stroke-width="0" />
<line x1="343.9" y1="391.19183999999996" x2="343.9" y2="396.07232" stroke="#222" stroke-width="1.1"/>
<line x1="340.0" y1="391.19183999999996" x2="347.79999999999995" y2="391.19183999999996" stroke="#222" stroke-width="1.1"/>
<rect x="336.09999999999997" y="396.07232" width="15.6" height="52.12768" fill="#a3002c" stroke="none" stroke-width="0" />
<line x1="243.4" y1="367.9" x2="243.4" y2="448.8" stroke="#111" stroke-width="1.2"/>
<line x1="240.70000000000002" y1="448.2" x2="243.4" y2="448.2" stroke="#222" stroke-width="1.1"/>
<text transform="translate(238.1,451.0) scale(1.0,1)" font-size="8.2" text-anchor="end" font-weight="normal" fill="#161616" stroke="#161616" stroke-width="0.18" >0.00</text>
<line x1="240.70000000000002" y1="435.21999999999997" x2="243.4" y2="435.21999999999997" stroke="#222" stroke-width="1.1"/>
<text transform="translate(238.1,438.02) scale(1.0,1)" font-size="8.2" text-anchor="end" font-weight="normal" fill="#161616" stroke="#161616" stroke-width="0.18" >0.25</text>
<line x1="240.70000000000002" y1="422.24" x2="243.4" y2="422.24" stroke="#222" stroke-width="1.1"/>
<text transform="translate(238.1,425.04) scale(1.0,1)" font-size="8.2" text-anchor="end" font-weight="normal" fill="#161616" stroke="#161616" stroke-width="0.18" >0.50</text>
<line x1="240.70000000000002" y1="409.26" x2="243.4" y2="409.26" stroke="#222" stroke-width="1.1"/>
<text transform="translate(238.1,412.06) scale(1.0,1)" font-size="8.2" text-anchor="end" font-weight="normal" fill="#161616" stroke="#161616" stroke-width="0.18" >0.75</text>
<line x1="240.70000000000002" y1="396.28" x2="243.4" y2="396.28" stroke="#222" stroke-width="1.1"/>
<text transform="translate(238.1,399.08) scale(1.0,1)" font-size="8.2" text-anchor="end" font-weight="normal" fill="#161616" stroke="#161616" stroke-width="0.18" >1.00</text>
<line x1="240.70000000000002" y1="383.29999999999995" x2="243.4" y2="383.29999999999995" stroke="#222" stroke-width="1.1"/>
<text transform="translate(238.1,386.09999999999997) scale(1.0,1)" font-size="8.2" text-anchor="end" font-weight="normal" fill="#161616" stroke="#161616" stroke-width="0.18" >1.25</text>
<line x1="240.70000000000002" y1="370.32" x2="243.4" y2="370.32" stroke="#222" stroke-width="1.1"/>
<text transform="translate(238.1,373.12) scale(1.0,1)" font-size="8.2" text-anchor="end" font-weight="normal" fill="#161616" stroke="#161616" stroke-width="0.18" >1.50</text>
<line x1="242.8" y1="448.2" x2="355.6" y2="448.2" stroke="#333" stroke-width="1.3"/>
<line x1="254.0" y1="448.2" x2="254.0" y2="451.0" stroke="#333" stroke-width="1.0"/>
<text transform="translate(256.6,458.0) rotate(-45) scale(0.955,1)" font-size="8.2" text-anchor="end" fill="#161616" stroke="#161616" stroke-width="0.24">KMM1</text>
<line x1="276.5" y1="448.2" x2="276.5" y2="451.0" stroke="#333" stroke-width="1.0"/>
<text transform="translate(279.1,458.0) rotate(-45) scale(0.955,1)" font-size="8.2" text-anchor="end" fill="#161616" stroke="#161616" stroke-width="0.24">KMS11</text>
<line x1="299.0" y1="448.2" x2="299.0" y2="451.0" stroke="#333" stroke-width="1.0"/>
<text transform="translate(301.6,458.0) rotate(-45) scale(0.955,1)" font-size="8.2" text-anchor="end" fill="#161616" stroke="#161616" stroke-width="0.24">JJN3</text>
<line x1="321.3" y1="448.2" x2="321.3" y2="451.0" stroke="#333" stroke-width="1.0"/>
<text transform="translate(323.90000000000003,458.0) rotate(-45) scale(0.955,1)" font-size="8.2" text-anchor="end" fill="#161616" stroke="#161616" stroke-width="0.24">U266</text>
<line x1="343.9" y1="448.2" x2="343.9" y2="451.0" stroke="#333" stroke-width="1.0"/>
<text transform="translate(346.5,458.0) rotate(-45) scale(0.955,1)" font-size="8.2" text-anchor="end" fill="#161616" stroke="#161616" stroke-width="0.24">A549</text>
<text transform="translate(216.0,408.5) rotate(-90) scale(0.69,1)" font-size="9.5" text-anchor="middle" fill="#161616" stroke="#161616" stroke-width="0.42">Relative mRNA</text>
<text transform="translate(455.9,362.1) scale(0.96,1)" font-size="9.4" text-anchor="middle" font-weight="normal" fill="#161616" stroke="#161616" stroke-width="0.18" >MST1</text>
<line x1="411.6" y1="385.45574999999997" x2="411.6" y2="390.976" stroke="#222" stroke-width="1.1"/>
<line x1="407.70000000000005" y1="385.45574999999997" x2="415.5" y2="385.45574999999997" stroke="#222" stroke-width="1.1"/>
<rect x="403.8" y="390.976" width="15.6" height="57.22399999999999" fill="#a3002c" stroke="none" stroke-width="0" />
<line x1="434.1" y1="404.42674999999997" x2="434.1" y2="409.947" stroke="#222" stroke-width="1.1"/>
<line x1="430.20000000000005" y1="404.42674999999997" x2="438.0" y2="404.42674999999997" stroke="#222" stroke-width="1.1"/>
<rect x="426.3" y="409.947" width="15.6" height="38.252999999999986" fill="#a3002c" stroke="none" stroke-width="0" />
<line x1="456.6" y1="387.47724999999997" x2="456.6" y2="406.215" stroke="#222" stroke-width="1.1"/>
<line x1="452.70000000000005" y1="387.47724999999997" x2="460.5" y2="387.47724999999997" stroke="#222" stroke-width="1.1"/>
<rect x="448.8" y="406.215" width="15.6" height="41.985000000000014" fill="#a3002c" stroke="none" stroke-width="0" />
<line x1="479.1" y1="412.435" x2="479.1" y2="416.478" stroke="#222" stroke-width="1.1"/>
<line x1="475.20000000000005" y1="412.435" x2="483.0" y2="412.435" stroke="#222" stroke-width="1.1"/>
<rect x="471.3" y="416.478" width="15.6" height="31.72199999999998" fill="#a3002c" stroke="none" stroke-width="0" />
<line x1="501.5" y1="439.72524999999996" x2="501.5" y2="440.425" stroke="#222" stroke-width="1.1"/>
<line x1="497.6" y1="439.72524999999996" x2="505.4" y2="439.72524999999996" stroke="#222" stroke-width="1.1"/>
<rect x="493.7" y="440.425" width="15.6" height="7.774999999999977" fill="#a3002c" stroke="none" stroke-width="0" />
<line x1="400.5" y1="368.0" x2="400.5" y2="448.8" stroke="#111" stroke-width="1.2"/>
<line x1="397.8" y1="448.2" x2="400.5" y2="448.2" stroke="#222" stroke-width="1.1"/>
<text transform="translate(394.6,451.0) scale(1.0,1)" font-size="8.2" text-anchor="end" font-weight="normal" fill="#161616" stroke="#161616" stroke-width="0.18" >0</text>
<line x1="397.8" y1="432.65" x2="400.5" y2="432.65" stroke="#222" stroke-width="1.1"/>
<text transform="translate(394.6,435.45) scale(1.0,1)" font-size="8.2" text-anchor="end" font-weight="normal" fill="#161616" stroke="#161616" stroke-width="0.18" >2</text>
<line x1="397.8" y1="417.09999999999997" x2="400.5" y2="417.09999999999997" stroke="#222" stroke-width="1.1"/>
<text transform="translate(394.6,419.9) scale(1.0,1)" font-size="8.2" text-anchor="end" font-weight="normal" fill="#161616" stroke="#161616" stroke-width="0.18" >4</text>
<line x1="397.8" y1="401.54999999999995" x2="400.5" y2="401.54999999999995" stroke="#222" stroke-width="1.1"/>
<text transform="translate(394.6,404.34999999999997) scale(1.0,1)" font-size="8.2" text-anchor="end" font-weight="normal" fill="#161616" stroke="#161616" stroke-width="0.18" >6</text>
<line x1="397.8" y1="386.0" x2="400.5" y2="386.0" stroke="#222" stroke-width="1.1"/>
<text transform="translate(394.6,388.8) scale(1.0,1)" font-size="8.2" text-anchor="end" font-weight="normal" fill="#161616" stroke="#161616" stroke-width="0.18" >8</text>
<line x1="397.8" y1="370.45" x2="400.5" y2="370.45" stroke="#222" stroke-width="1.1"/>
<text transform="translate(394.6,373.25) scale(1.0,1)" font-size="8.2" text-anchor="end" font-weight="normal" fill="#161616" stroke="#161616" stroke-width="0.18" >10</text>
<line x1="399.9" y1="448.2" x2="512.7" y2="448.2" stroke="#333" stroke-width="1.3"/>
<line x1="411.6" y1="448.2" x2="411.6" y2="451.0" stroke="#333" stroke-width="1.0"/>
<text transform="translate(414.20000000000005,458.0) rotate(-45) scale(0.955,1)" font-size="8.2" text-anchor="end" fill="#161616" stroke="#161616" stroke-width="0.24">KMM1</text>
<line x1="434.1" y1="448.2" x2="434.1" y2="451.0" stroke="#333" stroke-width="1.0"/>
<text transform="translate(436.70000000000005,458.0) rotate(-45) scale(0.955,1)" font-size="8.2" text-anchor="end" fill="#161616" stroke="#161616" stroke-width="0.24">KMS11</text>
<line x1="456.6" y1="448.2" x2="456.6" y2="451.0" stroke="#333" stroke-width="1.0"/>
<text transform="translate(459.20000000000005,458.0) rotate(-45) scale(0.955,1)" font-size="8.2" text-anchor="end" fill="#161616" stroke="#161616" stroke-width="0.24">JJN3</text>
<line x1="479.1" y1="448.2" x2="479.1" y2="451.0" stroke="#333" stroke-width="1.0"/>
<text transform="translate(481.70000000000005,458.0) rotate(-45) scale(0.955,1)" font-size="8.2" text-anchor="end" fill="#161616" stroke="#161616" stroke-width="0.24">U266</text>
<line x1="501.5" y1="448.2" x2="501.5" y2="451.0" stroke="#333" stroke-width="1.0"/>
<text transform="translate(504.1,458.0) rotate(-45) scale(0.955,1)" font-size="8.2" text-anchor="end" fill="#161616" stroke="#161616" stroke-width="0.24">A549</text>
<text transform="translate(379.5,408.5) rotate(-90) scale(0.69,1)" font-size="9.5" text-anchor="middle" fill="#161616" stroke="#161616" stroke-width="0.42">Relative mRNA</text>
<rect x="0.5" y="0.5" width="519" height="484" fill="none" stroke="#000" stroke-width="1.2"/>
</svg>
</body></html>
